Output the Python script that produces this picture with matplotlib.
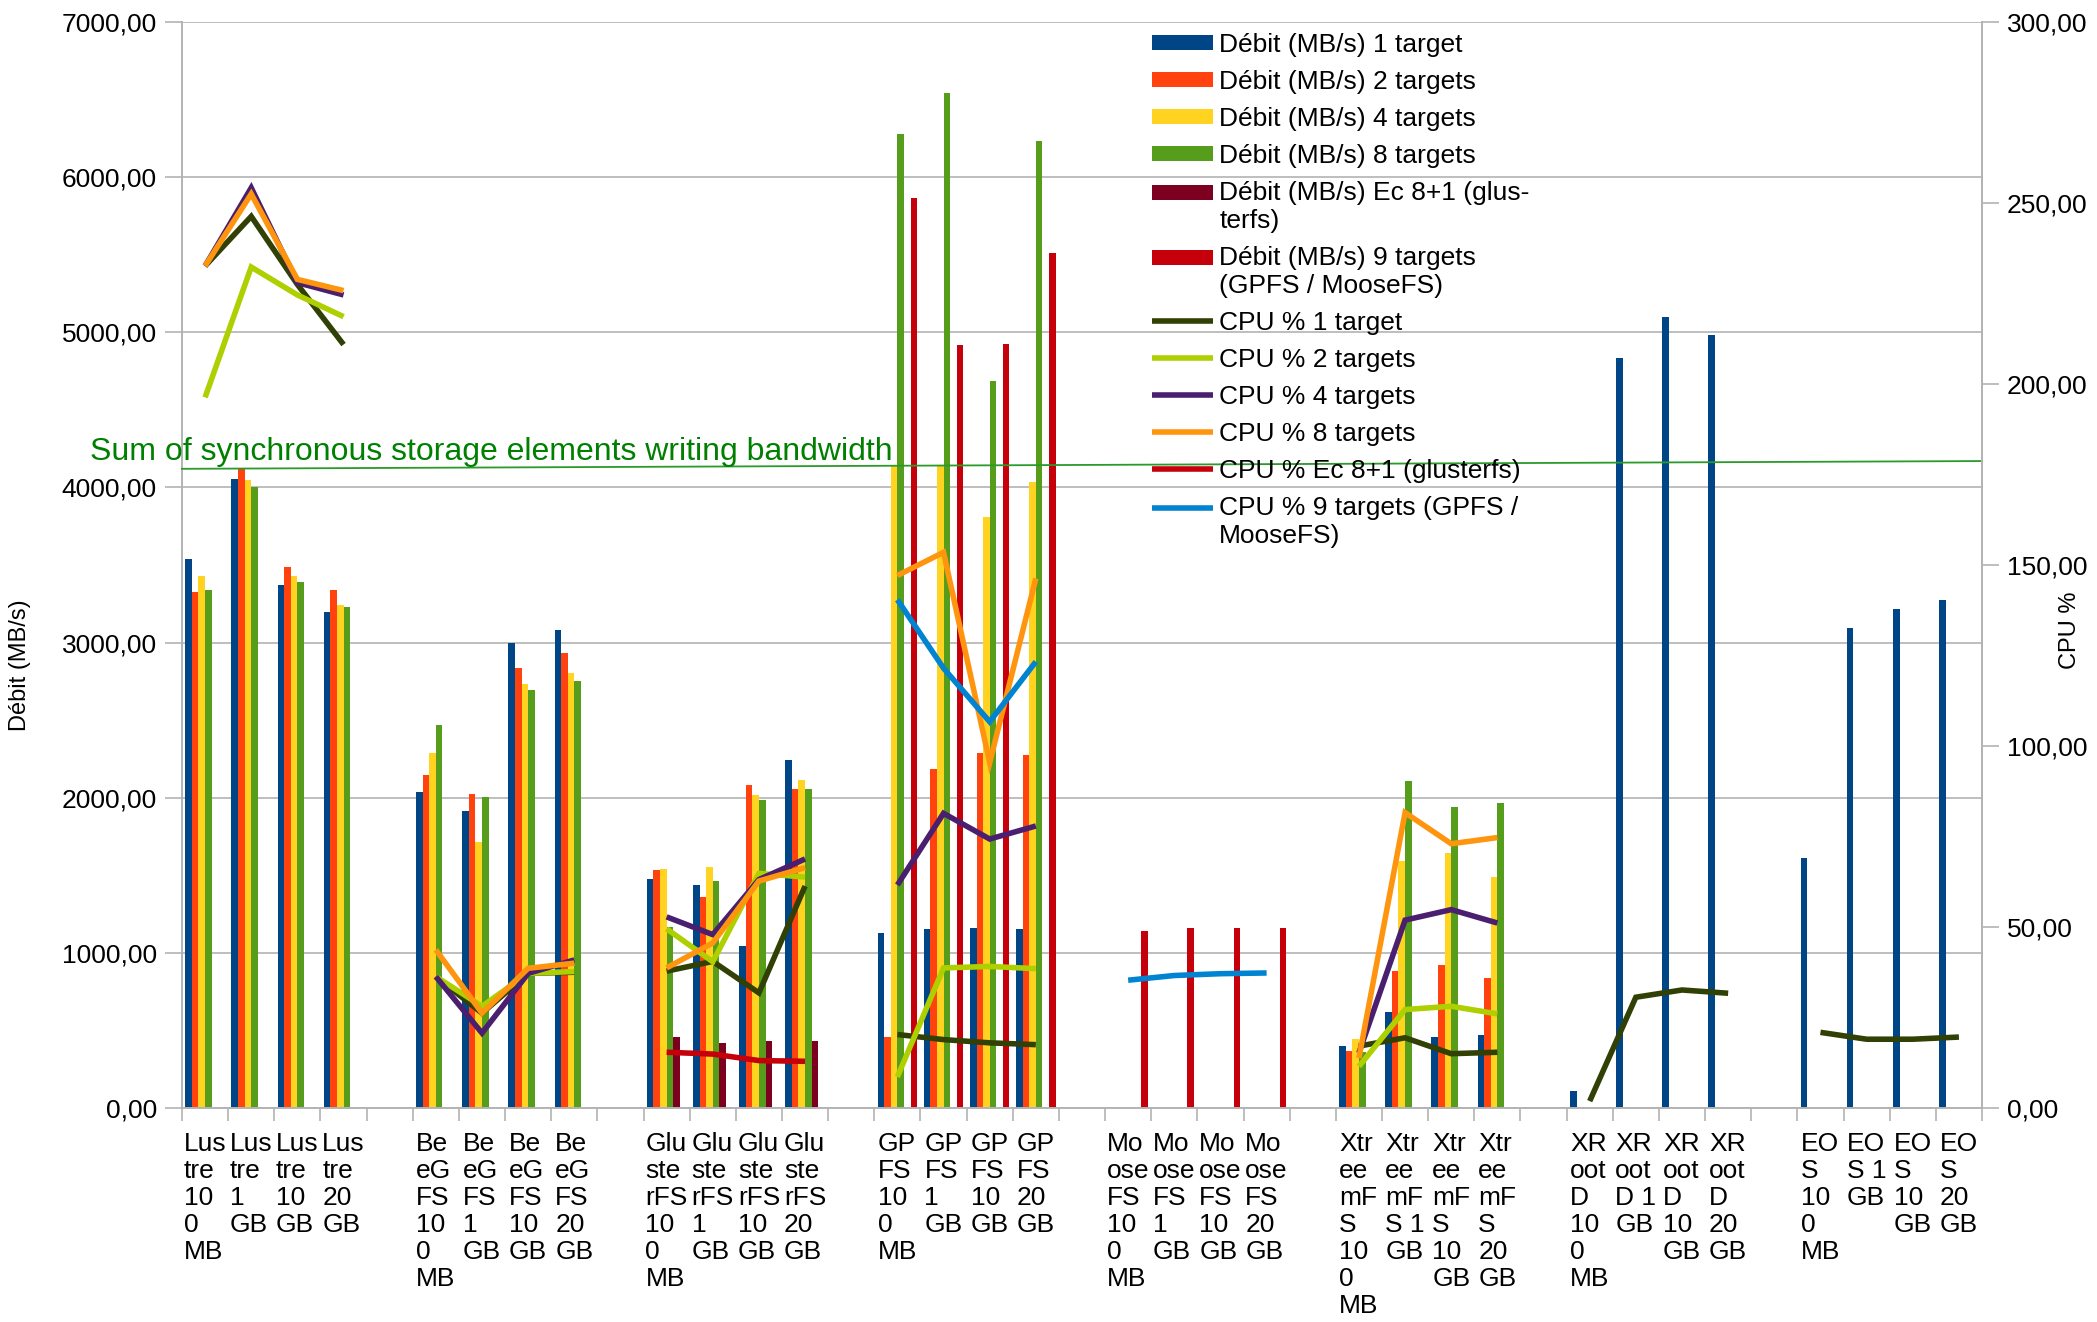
import numpy as np
import matplotlib
matplotlib.use("Agg")
import matplotlib.pyplot as plt
import matplotlib.patches as mpatches
from matplotlib.lines import Line2D
from matplotlib.legend_handler import HandlerPatch, HandlerLine2D
from matplotlib.ticker import FuncFormatter, MultipleLocator, FixedLocator

plt.rcParams['font.family'] = ['Liberation Sans', 'DejaVu Sans']

N = None
systems = ["Lustre", "BeeGFS", "GlusterFS", "GPFS", "MooseFS", "XtreemFS", "XRootD", "EOS"]
tick_labels = [
    "Lus\ntre\n10\n0\nMB", "Lus\ntre\n1\nGB", "Lus\ntre\n10\nGB", "Lus\ntre\n20\nGB",
    "Be\neG\nFS\n10\n0\nMB", "Be\neG\nFS\n1\nGB", "Be\neG\nFS\n10\nGB", "Be\neG\nFS\n20\nGB",
    "Glu\nste\nrFS\n10\n0\nMB", "Glu\nste\nrFS\n1\nGB", "Glu\nste\nrFS\n10\nGB", "Glu\nste\nrFS\n20\nGB",
    "GP\nFS\n10\n0\nMB", "GP\nFS\n1\nGB", "GP\nFS\n10\nGB", "GP\nFS\n20\nGB",
    "Mo\nose\nFS\n10\n0\nMB", "Mo\nose\nFS\n1\nGB", "Mo\nose\nFS\n10\nGB", "Mo\nose\nFS\n20\nGB",
    "Xtr\nee\nmF\nS\n10\n0\nMB", "Xtr\nee\nmF\nS 1\nGB", "Xtr\nee\nmF\nS\n10\nGB", "Xtr\nee\nmF\nS\n20\nGB",
    "XR\noot\nD\n10\n0\nMB", "XR\noot\nD 1\nGB", "XR\noot\nD\n10\nGB", "XR\noot\nD\n20\nGB",
    "EO\nS\n10\n0\nMB", "EO\nS 1\nGB", "EO\nS\n10\nGB", "EO\nS\n20\nGB",
]

# Débit (MB/s) -- order: Lustre, BeeGFS, GlusterFS, GPFS, MooseFS, XtreemFS, XRootD, EOS (100MB, 1GB, 10GB, 20GB)
debit_1_target = [3536, 4052, 3372, 3200, 2039, 1916, 2995, 3081, 1477, 1437, 1043, 2243,
                  1130, 1155, 1163, 1151, N, N, N, N, 398, 617, 456, 469,
                  107, 4834, 5100, 4983, 1612, 3097, 3215, 3273]
debit_2_targets = [3328, 4120, 3484, 3336, 2148, 2026, 2833, 2933, 1535, 1361, 2084, 2056,
                   458, 2188, 2289, 2276, N, N, N, N, 366, 882, 920, 837,
                   N, N, N, N, N, N, N, N]
debit_4_targets = [3432, 4048, 3432, 3244, 2290, 1717, 2736, 2804, 1542, 1553, 2019, 2114,
                   4137, 4137, 3809, 4032, N, N, N, N, 443, 1591, 1643, 1488,
                   N, N, N, N, N, N, N, N]
debit_8_targets = [3340, 4000, 3392, 3232, 2470, 2006, 2695, 2753, 1166, 1462, 1985, 2056,
                   6275, 6542, 4683, 6233, N, N, N, N, 360, 2108, 1940, 1966,
                   N, N, N, N, N, N, N, N]
debit_ec_8_1 = [N, N, N, N, N, N, N, N, 458, 417, 430, 430,
                N, N, N, N, N, N, N, N, N, N, N, N,
                N, N, N, N, N, N, N, N]
debit_9_targets = [N, N, N, N, N, N, N, N, N, N, N, N,
                   5863, 4918, 4926, 5514, 1140, 1159, 1159, 1159, N, N, N, N,
                   N, N, N, N, N, N, N, N]

# CPU %
cpu_1_target = [232.6, 246.3, 227.5, 210.9, 36.3, 26.2, 37.2, 37.5, 37.8, 40.5, 31.8, 61.3,
                20.3, 18.9, 18.0, 17.5, N, N, N, N, 17.1, 19.4, 15.0, 15.4,
                1.9, 30.6, 32.6, 31.7, 20.9, 19.0, 19.0, 19.6]
cpu_2_targets = [196.3, 232.3, 224.6, 218.6, 36.3, 28.1, 37.2, 37.7, 49.5, 40.4, 64.8, 63.8,
                 8.6, 38.7, 39.1, 38.5, N, N, N, N, 11.5, 27.2, 28.1, 26.0,
                 N, N, N, N, N, N, N, N]
cpu_4_targets = [232.6, 254.2, 228.0, 224.6, 36.3, 20.7, 37.2, 40.9, 52.8, 47.9, 63.1, 68.8,
                 61.6, 81.4, 74.3, 77.9, N, N, N, N, 15.2, 51.9, 54.8, 51.1,
                 N, N, N, N, N, N, N, N]
cpu_8_targets = [232.6, 252.5, 228.9, 225.8, 43.7, 26.2, 38.6, 40.0, 38.7, 45.6, 62.7, 66.4,
                 147.1, 153.5, 95.4, 146.3, N, N, N, N, 13.8, 81.6, 73.0, 74.7,
                 N, N, N, N, N, N, N, N]
cpu_ec_8_1 = [N, N, N, N, N, N, N, N, 15.4, 14.9, 13.1, 12.9,
              N, N, N, N, N, N, N, N, N, N, N, N,
              N, N, N, N, N, N, N, N]
cpu_9_targets = [N, N, N, N, N, N, N, N, N, N, N, N,
                 140.4, 121.5, 106.7, 123.3, 35.3, 36.6, 37.1, 37.3, N, N, N, N,
                 N, N, N, N, N, N, N, N]

sum_bandwidth_left = 4120
sum_bandwidth_right = 4170

bar_series = [
    ("Débit (MB/s) 1 target", debit_1_target, "#004586"),
    ("Débit (MB/s) 2 targets", debit_2_targets, "#ff420e"),
    ("Débit (MB/s) 4 targets", debit_4_targets, "#ffd320"),
    ("Débit (MB/s) 8 targets", debit_8_targets, "#579d1c"),
    ("Débit (MB/s) Ec 8+1 (glus-\nterfs)", debit_ec_8_1, "#7e0021"),
    ("Débit (MB/s) 9 targets\n(GPFS / MooseFS)", debit_9_targets, "#c5000b"),
]
line_series = [
    ("CPU % 1 target", cpu_1_target, "#314004"),
    ("CPU % 2 targets", cpu_2_targets, "#aecf00"),
    ("CPU % 4 targets", cpu_4_targets, "#4b1f6f"),
    ("CPU % 8 targets", cpu_8_targets, "#ff950e"),
    ("CPU % Ec 8+1 (glusterfs)", cpu_ec_8_1, "#c5000b"),
    ("CPU % 9 targets (GPFS /\nMooseFS)", cpu_9_targets, "#0084d1"),
]

n_cat = len(systems) * 5 - 1


def expand(vals):
    arr = np.full(n_cat, np.nan)
    for k, v in enumerate(vals):
        if v is not None:
            arr[(k // 4) * 5 + k % 4] = v
    return arr


labels_full = [""] * n_cat
for k, lab in enumerate(tick_labels):
    labels_full[(k // 4) * 5 + k % 4] = lab


class TopPatch(HandlerPatch):
    def __init__(self, dy, **kw):
        super().__init__(**kw)
        self.dy = dy

    def create_artists(self, legend, orig_handle, xdescent, ydescent, width, height,
                       fontsize, trans):
        return super().create_artists(legend, orig_handle, xdescent, ydescent - self.dy,
                                      width, height, fontsize, trans)


class TopLine(HandlerLine2D):
    def __init__(self, dy, **kw):
        super().__init__(**kw)
        self.dy = dy

    def create_artists(self, legend, orig_handle, xdescent, ydescent, width, height,
                       fontsize, trans):
        arts = super().create_artists(legend, orig_handle, xdescent, ydescent, width, height,
                                      fontsize, trans)
        for a in arts:
            if isinstance(a, Line2D):
                a.set_ydata(np.asarray(a.get_ydata()) + self.dy)
        return arts


W, H = 2097, 1322
fig = plt.figure(figsize=(W / 100, H / 100), dpi=100)
ax = fig.add_axes([182 / W, 1 - 1108 / H, 1800 / W, 1086 / H])
ax2 = ax.twinx()

fs = 19
x = np.arange(n_cat)
nb = len(bar_series)
bw = 1 / (nb + 1)
handles = []
handler_map = {}
shift = 0.54 * fs
for k, (lab, vals, col) in enumerate(bar_series):
    ax.bar(x + (k - (nb - 1) / 2) * bw, expand(vals), width=bw, color=col,
           zorder=2, linewidth=0)
    p = mpatches.Patch(color=col, label=lab, linewidth=0)
    handles.append(p)
    handler_map[p] = TopPatch(shift if "\n" in lab else 0)
for lab, vals, col in line_series:
    ln, = ax2.plot(x, expand(vals), color=col, lw=4.0, label=lab,
                   solid_joinstyle='miter', solid_capstyle='butt')
    handles.append(ln)
    handler_map[ln] = TopLine(shift if "\n" in lab else 0)

ax.set_xlim(-0.5, n_cat - 0.5)
ax.set_ylim(0, 7000)
ax2.set_ylim(0, 300)
ax.yaxis.set_major_locator(MultipleLocator(1000))
ax2.yaxis.set_major_locator(MultipleLocator(50))
fmt = FuncFormatter(lambda v, p: f"{v:.2f}".replace('.', ','))
ax.yaxis.set_major_formatter(fmt)
ax2.yaxis.set_major_formatter(fmt)

grey = '#b3b3b3'
ax.set_axisbelow(True)
ax.grid(axis='y', color=grey, lw=1.2)
for a in (ax, ax2):
    for s in a.spines.values():
        s.set_color(grey)
        s.set_linewidth(1.4)
    a.spines['top'].set_visible(False)
ax2.spines['left'].set_visible(False)
ax2.spines['bottom'].set_visible(False)

ax.tick_params(axis='y', length=12, width=1.2, color=grey, pad=6, labelsize=fs)
ax2.tick_params(axis='y', length=12, width=1.2, color=grey, pad=6, labelsize=fs)
ax.set_xticks(x)
ax.set_xticklabels(labels_full, fontsize=fs, ha='center', va='top',
                   multialignment='left', linespacing=1.16)
ax.tick_params(axis='x', which='major', length=0, pad=17)
ax.xaxis.set_minor_locator(FixedLocator(np.arange(-0.5, n_cat, 1)))
ax.tick_params(axis='x', which='minor', length=9, width=1.2, color=grey)

# synchronous storage bandwidth line
ax.plot([-0.5, n_cat - 0.5], [sum_bandwidth_left, sum_bandwidth_right],
        color='#2a9a2a', lw=1.3, zorder=6, clip_on=False)
fig.text(90 / W, 1 - 460 / H, "Sum of synchronous storage elements writing bandwidth",
         color='#008000', fontsize=23, va='baseline', ha='left')

fig.text(20 / W, 1 - 665 / H, "Débit (MB/s)", rotation=90, fontsize=17,
         ha='center', va='center')
fig.text(2070 / W, 1 - 630 / H, "CPU %", rotation=90, fontsize=17,
         ha='center', va='center')

leg = ax2.legend(handles=handles, handler_map=handler_map, loc='upper left',
                 bbox_to_anchor=(1152 / W, 1 - 33 / H), bbox_transform=fig.transFigure,
                 frameon=False, fontsize=fs, handlelength=2.3, handleheight=0.5,
                 handletextpad=0.25, labelspacing=0.49, borderpad=0, borderaxespad=0)
for t in leg.get_texts():
    t.set_linespacing(1.22)

fig.savefig("out.png", dpi=100)
